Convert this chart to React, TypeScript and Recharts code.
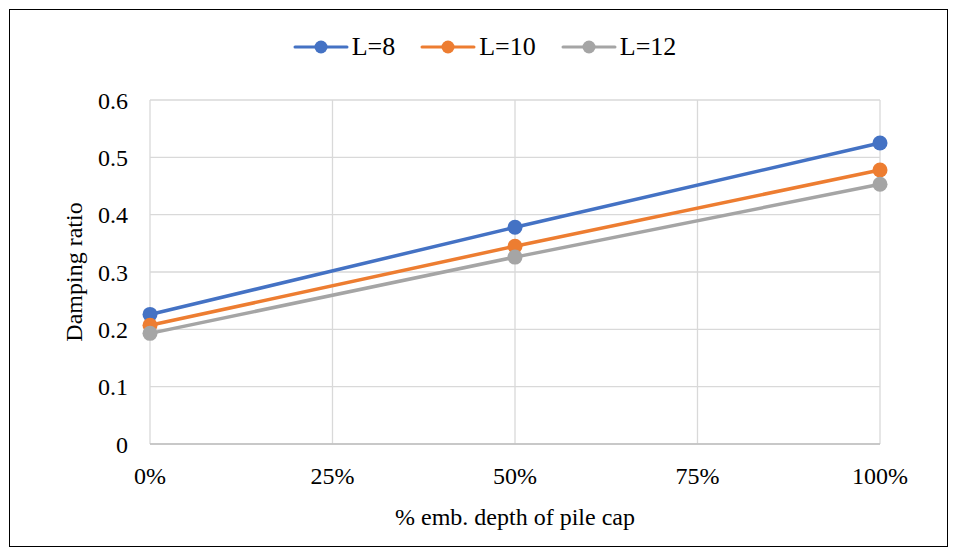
import React from 'react';
import { LineChart, Line, XAxis, YAxis, CartesianGrid } from 'recharts';

const DEPTHS = [0, 50, 100];
const L8 = [0.226, 0.378, 0.525];
const L10 = [0.207, 0.345, 0.478];
const L12 = [0.193, 0.326, 0.453];
const X_TICKS = [0, 25, 50, 75, 100];
const Y_TICKS = [0, 0.1, 0.2, 0.3, 0.4, 0.5, 0.6];

const SERIES = [
  { key: 'l8', name: 'L=8', color: '#4472C4' },
  { key: 'l10', name: 'L=10', color: '#ED7D31' },
  { key: 'l12', name: 'L=12', color: '#A5A5A5' },
];

const data = DEPTHS.map((d, i) => ({ depth: d, l8: L8[i], l10: L10[i], l12: L12[i] }));

const FONT = '"Liberation Serif", "Times New Roman", serif';

// Excel-style legend: short line with a dot in the middle
const ChartLegend = () => (
  <div
    style={{
      position: 'absolute', left: 0, top: 31, width: 957,
      display: 'flex', justifyContent: 'center', gap: 25,
      fontFamily: FONT, fontSize: 26, lineHeight: '32px', paddingLeft: 12, boxSizing: 'border-box',
    }}
  >
    {SERIES.map((s) => (
      <div key={s.key} style={{ display: 'flex', alignItems: 'center' }}>
        <svg width={56} height={16} style={{ marginRight: 3 }}>
          <line x1={2} y1={8} x2={54} y2={8} stroke={s.color} strokeWidth={3} strokeLinecap="round" />
          <circle cx={28} cy={8} r={6.5} fill={s.color} />
        </svg>
        <span style={{ color: '#000' }}>{s.name}</span>
      </div>
    ))}
  </div>
);

export default function App() {
  return (
    <div style={{ position: 'fixed', left: 0, top: 0, width: 957, height: 556, background: '#fff' }}>
      <div style={{ position: 'absolute', left: 9, top: 9, width: 937, height: 536, border: '1.5px solid #000' }} />
      <ChartLegend />
      <LineChart width={957} height={556} data={data} margin={{ top: 100, right: 77, bottom: 82, left: 90 }}>
        <CartesianGrid stroke="#d9d9d9" strokeWidth={1.3} />
        <XAxis
          type="number"
          dataKey="depth"
          domain={[0, 100]}
          ticks={X_TICKS}
          tickFormatter={(v) => `${v}%`}
          tickLine={false}
          axisLine={{ stroke: '#bfbfbf', strokeWidth: 1.5 }}
          tick={{ fontSize: 24, fill: '#000', fontFamily: FONT }}
          tickMargin={17}
          height={30}
          label={{ value: '% emb. depth of pile cap', position: 'insideBottom', offset: -51, fontSize: 24, fill: '#000', fontFamily: FONT }}
        />
        <YAxis
          type="number"
          domain={[0, 0.6]}
          ticks={Y_TICKS}
          tickFormatter={(v) => (v === 0 ? '0' : v.toFixed(1))}
          tickLine={false}
          axisLine={false}
          width={60}
          tick={{ fontSize: 24, fill: '#000', fontFamily: FONT }}
          tickMargin={16}
          label={{ value: 'Damping ratio', angle: -90, position: 'insideLeft', offset: -17, fontSize: 24, fill: '#000', fontFamily: FONT, style: { textAnchor: 'middle' } }}
        />
        {SERIES.map((s) => (
          <Line
            key={s.key}
            dataKey={s.key}
            name={s.name}
            stroke={s.color}
            strokeWidth={3.5}
            dot={{ r: 7.5, fill: s.color, stroke: s.color, strokeWidth: 0 }}
            isAnimationActive={false}
          />
        ))}
      </LineChart>
    </div>
  );
}
